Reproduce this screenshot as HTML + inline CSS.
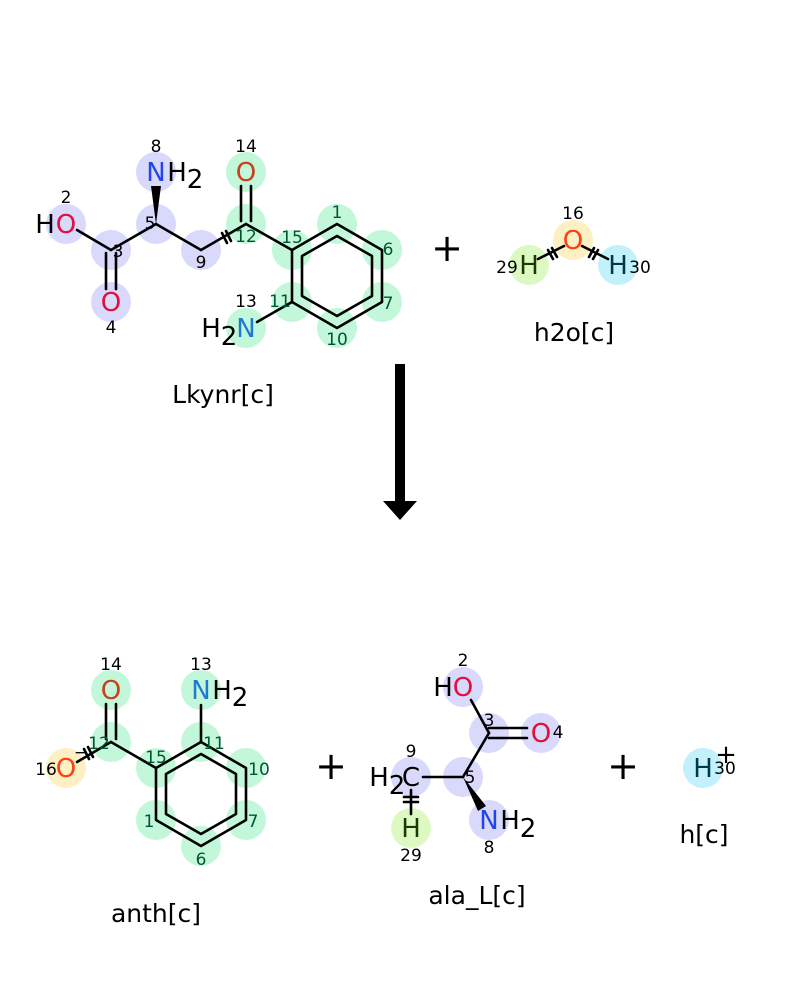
<!DOCTYPE html>
<html><head><meta charset="utf-8"><style>html,body{margin:0;padding:0;background:#fff}svg{display:block}</style></head>
<body>
<svg width="800" height="1000" viewBox="0 0 800 1000" xmlns="http://www.w3.org/2000/svg" font-family="DejaVu Sans, Liberation Sans, sans-serif">
<rect width="800" height="1000" fill="#fff"/>
<g fill="#d9d9fb">
<circle cx="66" cy="224" r="20"/><circle cx="111" cy="250" r="20"/><circle cx="111" cy="302" r="20"/>
<circle cx="156" cy="224" r="20"/><circle cx="156" cy="172" r="20"/><circle cx="201" cy="250" r="20"/>
</g>
<g fill="#c2f8d9">
<circle cx="246" cy="224" r="20"/><circle cx="246" cy="172" r="20"/><circle cx="292" cy="250" r="20"/>
<circle cx="337" cy="224" r="20"/><circle cx="382" cy="250" r="20"/><circle cx="382" cy="302" r="20"/>
<circle cx="337" cy="328" r="20"/><circle cx="292" cy="302" r="20"/><circle cx="246" cy="328" r="20"/>
</g>
<circle cx="573" cy="240" r="20" fill="#fdf0c4"/>
<circle cx="529" cy="265" r="20" fill="#dcf9c2"/>
<circle cx="618" cy="265" r="20" fill="#c2f0fb"/>
<g stroke="#000" stroke-width="2.6" fill="none" stroke-linecap="round" stroke-linejoin="round">
<line x1="77" y1="230" x2="111" y2="250"/>
<line x1="106" y1="253" x2="106" y2="289"/><line x1="116" y1="253" x2="116" y2="289"/>
<line x1="111" y1="250" x2="156" y2="224"/>
<line x1="156" y1="224" x2="201" y2="250"/>
<line x1="201" y1="250" x2="246" y2="224"/>
<line x1="241" y1="221" x2="241" y2="186"/><line x1="251" y1="221" x2="251" y2="186"/>
<line x1="246" y1="224" x2="292" y2="250"/>
<polygon points="292,250 337,224 382,250 382,302 337,328 292,302"/>
<polygon points="302,256 337,236 372,256 372,296 337,316 302,296"/>
<line x1="292" y1="302" x2="257" y2="322"/>
<line x1="222" y1="233" x2="227" y2="243"/><line x1="226" y1="231" x2="231" y2="241"/>
<line x1="564" y1="246" x2="538" y2="259"/><line x1="582" y1="246" x2="608" y2="259"/>
<line x1="548" y1="250" x2="553" y2="259"/><line x1="552" y1="248" x2="557" y2="257"/>
<line x1="594" y1="248" x2="589" y2="257"/><line x1="598" y1="250" x2="593" y2="259"/>
</g>
<polygon points="156,224 151,186 161,186" fill="#000"/>
<g font-size="26" text-anchor="middle" dominant-baseline="central">
<text x="45" y="225">H</text><text x="66" y="225" fill="#e0103a">O</text>
<text x="111" y="303" fill="#e0103a">O</text>
<text x="156" y="173" fill="#2244ee">N</text><text x="177" y="173">H</text><text x="195" y="180">2</text>
<text x="246" y="173" fill="#c8401c">O</text>
<text x="211" y="329">H</text><text x="229" y="337">2</text><text x="246" y="329" fill="#1e78d4">N</text>
<text x="573" y="241" fill="#ff4010">O</text>
<text x="529" y="266" fill="#1a3a00">H</text><text x="618" y="266" fill="#003848">H</text>
</g>
<g font-size="17" text-anchor="middle" dominant-baseline="central">
<text x="66" y="198">2</text><text x="118" y="252">3</text><text x="111" y="328">4</text>
<text x="150" y="224">5</text><text x="156" y="147">8</text><text x="201" y="263">9</text>
<text x="246" y="237" fill="#053">12</text><text x="246" y="147">14</text><text x="292" y="238" fill="#053">15</text>
<text x="337" y="213" fill="#053">1</text><text x="388" y="250" fill="#053">6</text><text x="388" y="304" fill="#053">7</text>
<text x="337" y="340" fill="#053">10</text><text x="280" y="302" fill="#053">11</text><text x="246" y="302">13</text>
<text x="573" y="214">16</text><text x="507" y="268">29</text><text x="640" y="268">30</text>
</g>
<g font-size="25" text-anchor="middle">
<text x="223" y="403">Lkynr[c]</text><text x="574" y="341">h2o[c]</text>
<text x="156" y="922">anth[c]</text><text x="477" y="904">ala_L[c]</text><text x="704" y="843">h[c]</text>
</g>
<g font-size="38" text-anchor="middle" dominant-baseline="central">
<text x="447" y="248">+</text><text x="331" y="766">+</text><text x="623" y="766">+</text>
</g>
<rect x="395" y="364" width="10" height="140" fill="#000"/>
<polygon points="383,501 417,501 400,520" fill="#000"/>
<g fill="#c2f8d9">
<circle cx="111" cy="690" r="20"/><circle cx="111" cy="742" r="20"/><circle cx="156" cy="768" r="20"/>
<circle cx="201" cy="742" r="20"/><circle cx="201" cy="690" r="20"/><circle cx="246" cy="768" r="20"/>
<circle cx="246" cy="820" r="20"/><circle cx="201" cy="846" r="20"/><circle cx="156" cy="820" r="20"/>
</g>
<circle cx="66" cy="768" r="20" fill="#fdf0c4"/>
<g fill="#d9d9fb">
<circle cx="463" cy="687" r="20"/><circle cx="489" cy="733" r="20"/><circle cx="541" cy="733" r="20"/>
<circle cx="463" cy="777" r="20"/><circle cx="411" cy="777" r="20"/><circle cx="489" cy="820" r="20"/>
</g>
<circle cx="411" cy="828" r="20" fill="#dcf9c2"/>
<circle cx="703" cy="768" r="20" fill="#c2f0fb"/>
<g stroke="#000" stroke-width="2.6" fill="none" stroke-linecap="round" stroke-linejoin="round">
<line x1="106" y1="739" x2="106" y2="704"/><line x1="116" y1="739" x2="116" y2="704"/>
<line x1="111" y1="742" x2="77" y2="762"/>
<line x1="111" y1="742" x2="156" y2="768"/>
<polygon points="156,768 201,742 246,768 246,820 201,846 156,820"/>
<polygon points="166,774 201,754 236,774 236,814 201,834 166,814"/>
<line x1="201" y1="742" x2="201" y2="705"/>
<line x1="84" y1="749" x2="89" y2="759"/><line x1="88" y1="747" x2="93" y2="757"/>
<line x1="471" y1="700" x2="489" y2="733"/>
<line x1="489" y1="728" x2="527" y2="728"/><line x1="489" y1="738" x2="527" y2="738"/>
<line x1="489" y1="733" x2="463" y2="777"/>
<line x1="463" y1="777" x2="423" y2="777"/>
<line x1="411" y1="790" x2="411" y2="814"/>
<line x1="404" y1="797" x2="418" y2="797"/><line x1="404" y1="802" x2="418" y2="802"/>
</g>
<polygon points="463,777 486,806 478,811" fill="#000"/>
<g font-size="26" text-anchor="middle" dominant-baseline="central">
<text x="111" y="691" fill="#c8401c">O</text>
<text x="66" y="769" fill="#ff4010">O</text>
<text x="201" y="691" fill="#1e78d4">N</text><text x="222" y="691">H</text><text x="240" y="698">2</text>
<text x="443" y="688">H</text><text x="463" y="688" fill="#e0103a">O</text>
<text x="541" y="734" fill="#e0103a">O</text>
<text x="379" y="778">H</text><text x="397" y="786">2</text><text x="411" y="778">C</text>
<text x="411" y="829" fill="#1a3a00">H</text>
<text x="489" y="821" fill="#2244ee">N</text><text x="510" y="821">H</text><text x="528" y="829">2</text>
<text x="703" y="769" fill="#003848">H</text>
</g>
<g font-size="17" text-anchor="middle" dominant-baseline="central">
<text x="111" y="665">14</text><text x="99" y="744" fill="#053">12</text><text x="156" y="758" fill="#053">15</text>
<text x="201" y="665">13</text><text x="214" y="744" fill="#053">11</text><text x="259" y="770" fill="#053">10</text>
<text x="253" y="822" fill="#053">7</text><text x="201" y="860" fill="#053">6</text><text x="149" y="822" fill="#053">1</text>
<text x="46" y="770">16</text>
<text x="463" y="661">2</text><text x="489" y="721">3</text><text x="558" y="733">4</text>
<text x="470" y="778">5</text><text x="411" y="752">9</text><text x="411" y="856">29</text><text x="489" y="848">8</text>
<text x="725" y="769">30</text>
</g>
<text x="81" y="758" font-size="17" text-anchor="middle">−</text>
<text x="726" y="763" font-size="26" text-anchor="middle">+</text>
</svg>
</body></html>
